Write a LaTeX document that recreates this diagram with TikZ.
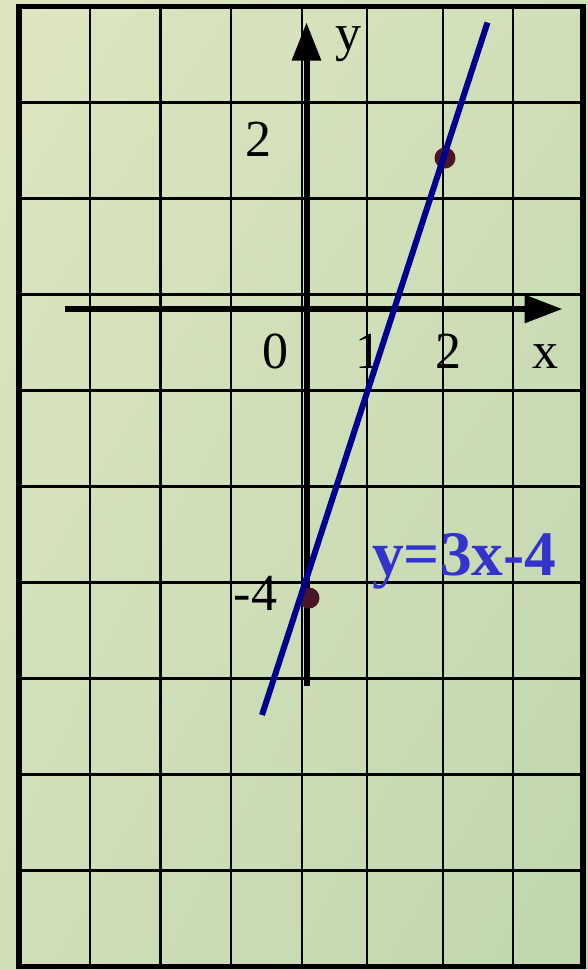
\documentclass[tikz,border=0pt]{standalone}
\usepackage{fontspec}
\setmainfont{Liberation Serif}
\usetikzlibrary{arrows.meta,shadings}
\definecolor{bgtop}{HTML}{DDE5BF}
\definecolor{bgmid}{HTML}{CFDFB8}
\definecolor{bgbot}{HTML}{BFD6AF}
\definecolor{linenavy}{HTML}{00008E}
\definecolor{dotred}{HTML}{4A1626}
\definecolor{eqblue}{HTML}{3434CC}

\begin{document}
\begin{tikzpicture}[x=1pt,y=-1pt,
  lbl/.style={anchor=base,inner sep=0pt,font=\fontsize{52}{60}\selectfont}]
  % Background
  \shade[upper left=bgtop, upper right=bgmid, lower left=bgmid, lower right=bgbot]
    (0,0) rectangle (588,970);
  \useasboundingbox (0,0) rectangle (588,970);

  % Draw grid
  \foreach \gx in {90,160.5,231,302,367,443,513}
    \draw[line width=2.8] (\gx,6.5) -- (\gx,966.5);
  \foreach \gy in {102.5,198.5,...,870.5}
    \draw[line width=2.8] (19,\gy) -- (583,\gy);
  \draw[line width=5.5] (19,6.5) rectangle (583,966.5);

  % Draw axes
  \draw[line width=6, -{Triangle[length=38pt,width=27pt]}] (65,309) -- (562.5,309);
  \draw[line width=6, -{Triangle[length=38pt,width=28pt]}] (306.5,686) -- (306.5,22.5);

  % Axis labels and ticks
  \node[lbl] (ylab) at (348,50) {y};
  \node[lbl] (xlab) at (545,368) {x};
  \node[lbl] (zero) at (275.5,368) {0};
  \node[lbl] (one) at (368,368) {1};
  \node[lbl] (two) at (448.5,368) {2};
  \node[lbl] (ytwo) at (258,156.5) {2};
  \node[lbl] (yfour) at (255.5,610) {-4};

  % Mark the two points
  \coordinate (p1) at (445,158);
  \coordinate (p2) at (309,598);
  \fill[dotred] (p1) circle (10.5pt);
  \fill[dotred] (p2) circle (10.5pt);

  % The line through them
  \coordinate (lowend) at (262,715);
  \coordinate (highend) at (487.5,22.5);
  \draw[linenavy, line width=6] (lowend) -- (highend);

  \node[anchor=base west, inner sep=0pt, text=eqblue,
        font=\bfseries\fontsize{63.5}{70}\selectfont] (eq) at (372,575) {y=3x-4};
\end{tikzpicture}
\end{document}
